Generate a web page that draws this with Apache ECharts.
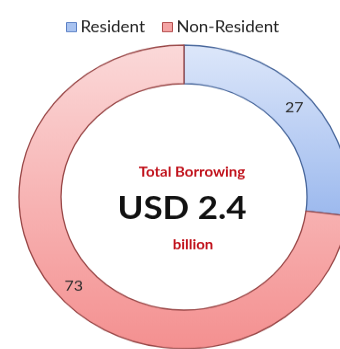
<!DOCTYPE html>
<html>
<head>
<meta charset="utf-8">
<script src="https://cdn.jsdelivr.net/npm/echarts@6/dist/echarts.min.js"></script>
<style>
  html, body { margin: 0; padding: 0; background: #fff; overflow: hidden; }
  #wrap { width: 340px; height: 349px; overflow: hidden; }
  #chart { width: 340px; height: 380px; transform: scaleY(0.92); transform-origin: 0 0; }
</style>
</head>
<body>
<div id="wrap"><div id="chart"></div></div>
<script>
// Borrowing split by holder type (percent of total)
const categories = ['Resident', 'Non-Resident'];
const shares = [27, 73];
const centerLines = ['Total Borrowing', 'USD 2.4', 'billion'];

const fills = [
  { top: '#dde7fa', bottom: '#9cb9ee', border: '#46659a', icon: '#a9c3f0', iconBorder: '#5a7fc4' },
  { top: '#fbd9d9', bottom: '#f49090', border: '#984646', icon: '#f4a4a4', iconBorder: '#b04848' }
];

const chart = echarts.init(document.getElementById('chart'), null, { renderer: 'canvas' });

const data = categories.map((name, i) => ({
  name,
  value: shares[i],
  itemStyle: {
    color: new echarts.graphic.LinearGradient(0, 0, 0, 1, [
      { offset: 0, color: fills[i].top },
      { offset: 1, color: fills[i].bottom }
    ]),
    borderColor: fills[i].border,
    borderWidth: 1.3
  }
}));

const centerText = (text, x, y, size, fill) => ({
  type: 'text', x, y,
  style: {
    text, align: 'center', verticalAlign: 'middle',
    fontFamily: 'Lato', fontWeight: 'bold', fontSize: size, fill
  }
});

chart.setOption({
  animation: false,
  legend: {
    data: categories.map((name, i) => ({
      name,
      itemStyle: { color: fills[i].icon, borderColor: fills[i].iconBorder, borderWidth: 1 }
    })),
    left: 61,
    top: 16,
    icon: 'rect',
    itemWidth: 10,
    itemHeight: 10,
    itemGap: 17,
    selectedMode: false,
    textStyle: { fontFamily: 'Lato', fontSize: 17, color: '#222', padding: [0, 0, 0, -1] }
  },
  graphic: [
    centerText(centerLines[0], 192, 187, 15, '#c0101a'),
    centerText(centerLines[1], 182, 227, 35, '#111'),
    centerText(centerLines[2], 193, 266, 15, '#c0101a')
  ],
  series: [{
    type: 'pie',
    center: [184, 214],
    radius: [123, 165],
    startAngle: 90,
    clockwise: true,
    silent: true,
    label: {
      show: true,
      position: 'inside',
      formatter: '{c}',
      fontFamily: 'Lato',
      fontSize: 16,
      color: '#2a2a2a'
    },
    labelLine: { show: false },
    data
  }]
});
</script>
</body>
</html>
